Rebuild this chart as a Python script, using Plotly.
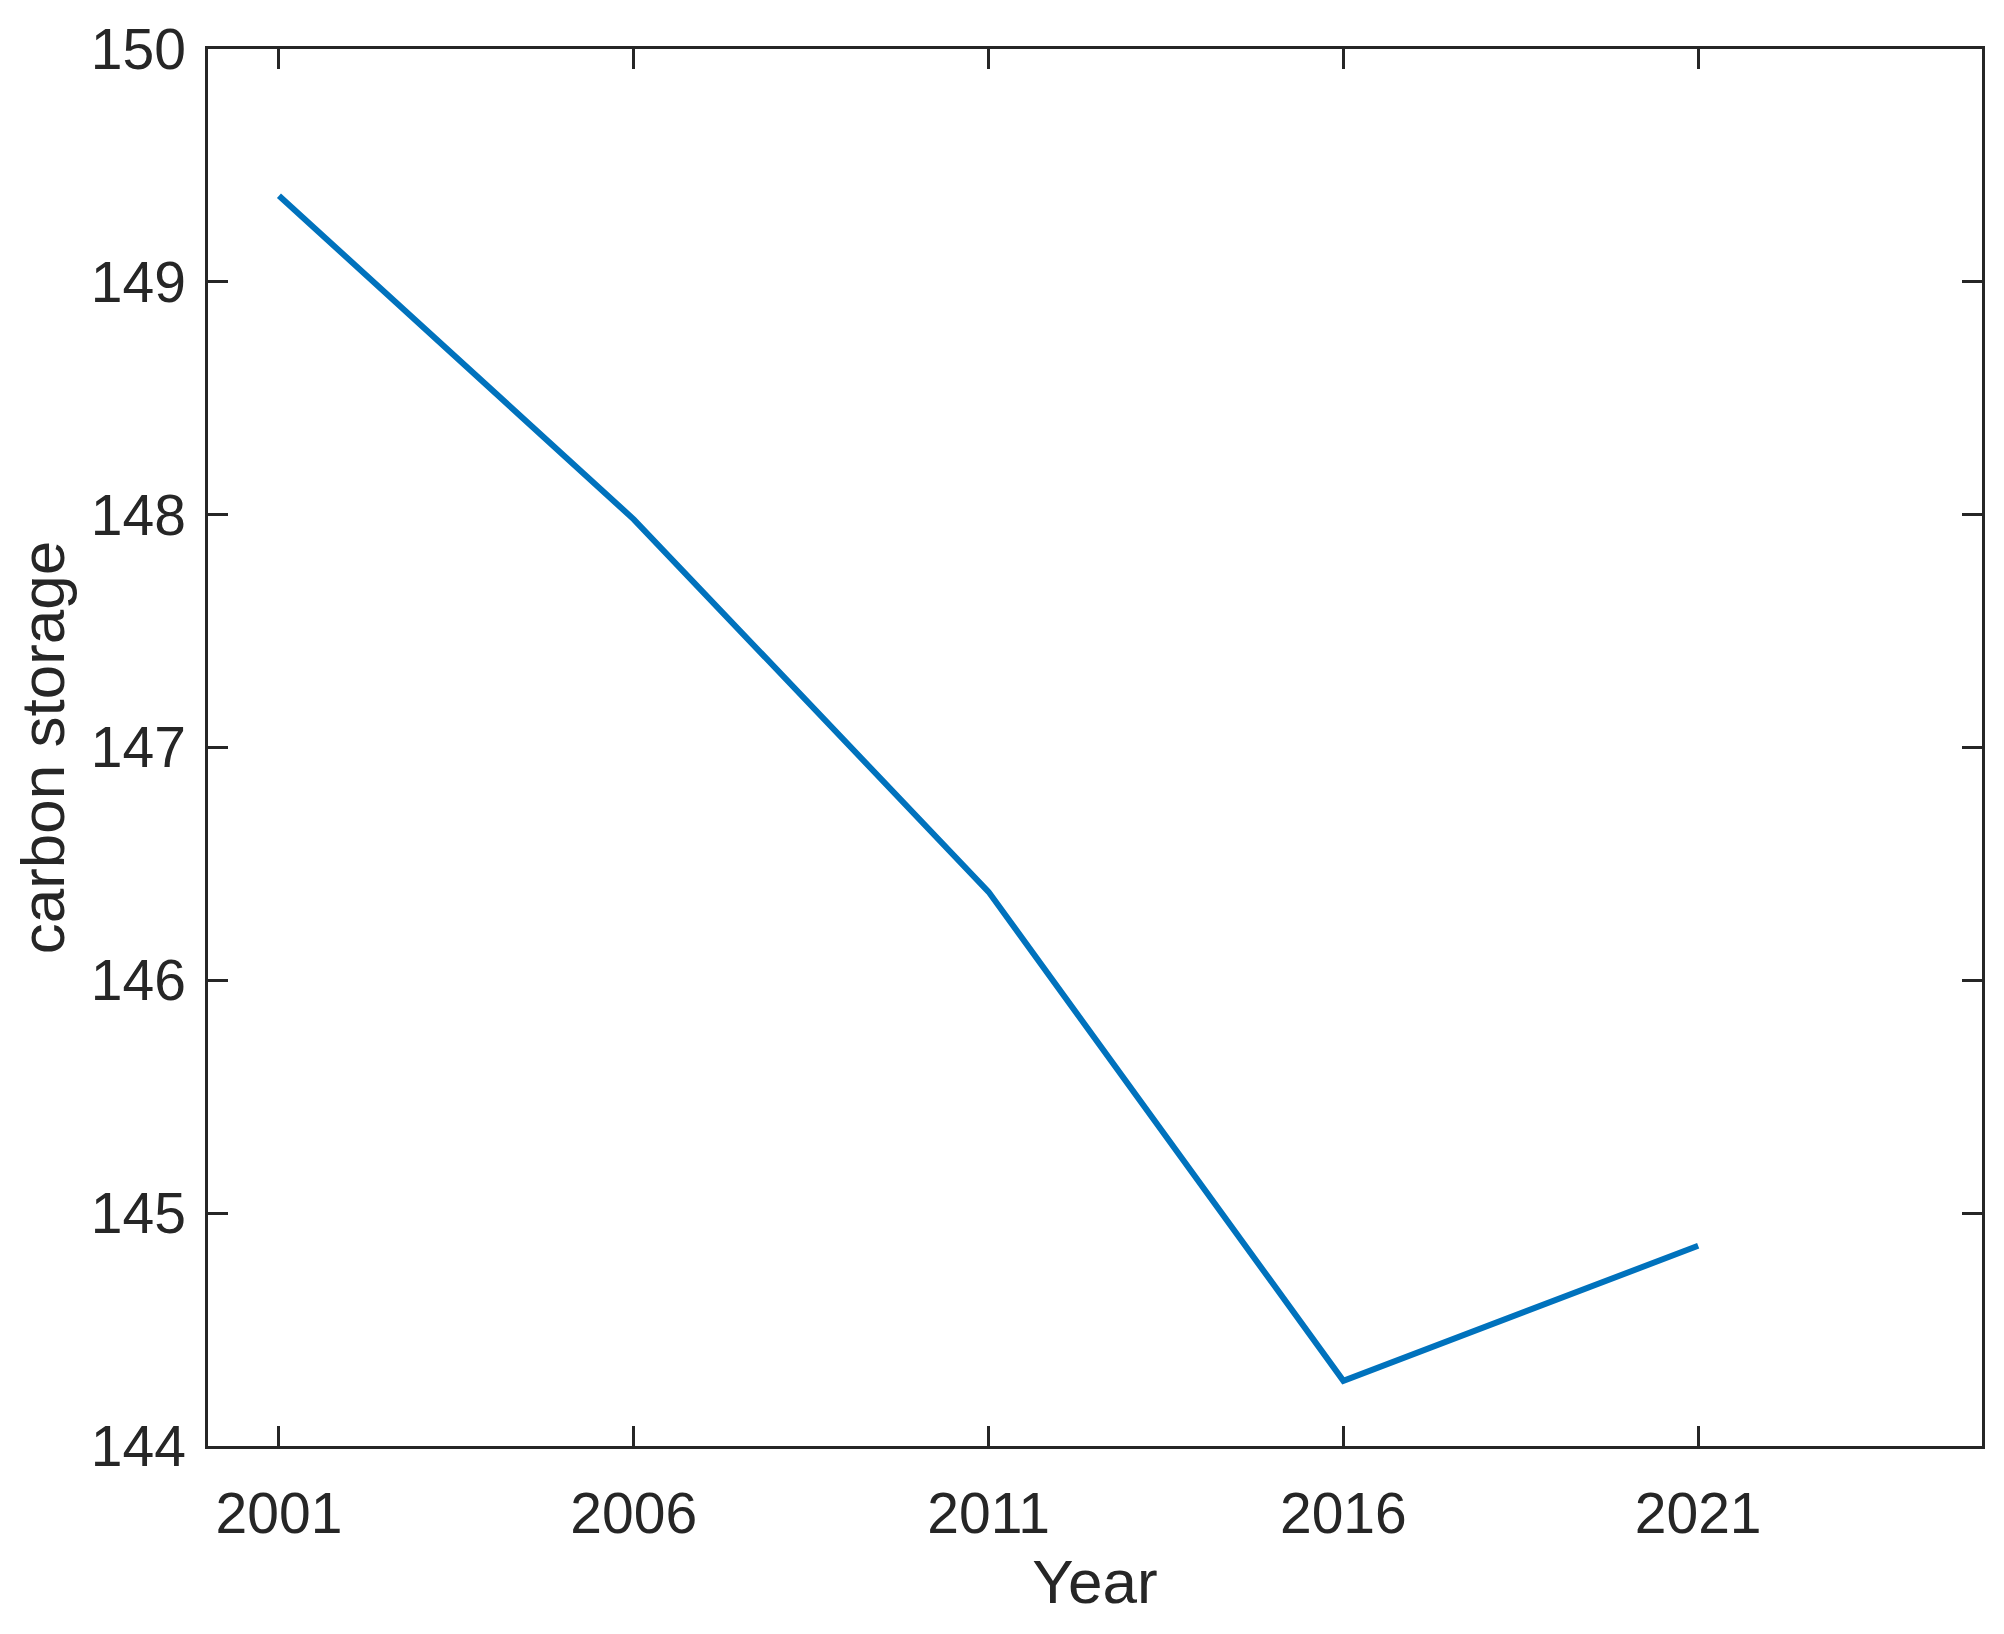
import plotly.graph_objects as go

years = [2001, 2006, 2011, 2016, 2021]
carbon_storage = [149.37, 147.98, 146.38, 144.28, 144.86]
x_ticks = [2001, 2006, 2011, 2016, 2021]
y_ticks = [144, 145, 146, 147, 148, 149, 150]

FONT = "Liberation Sans, Arial, Helvetica, sans-serif"
AX = "#262626"

fig = go.Figure()
fig.add_trace(go.Scatter(
    x=years, y=carbon_storage, mode="lines",
    line=dict(color="#0072BD", width=6),
    showlegend=False,
))

axis_common = dict(
    showline=True, linecolor=AX, linewidth=2.5, mirror="ticks",
    ticks="inside", ticklen=20, tickwidth=2.5, tickcolor=AX,
    showgrid=False, zeroline=False, automargin=False,
    tickfont=dict(family=FONT, size=57, color=AX),
)

fig.update_xaxes(
    range=[2000, 2025], tickvals=x_ticks, ticktext=[str(v) for v in x_ticks],
    title=dict(text="Year", font=dict(family=FONT, size=62, color=AX), standoff=16),
    ticklabelstandoff=16,
    **axis_common,
)
fig.update_yaxes(
    range=[144, 150], tickvals=y_ticks, ticktext=[str(v) for v in y_ticks],
    title=dict(text="carbon storage", font=dict(family=FONT, size=62, color=AX), standoff=8),
    ticklabelstandoff=8,
    **axis_common,
)

fig.update_layout(
    width=2004, height=1634,
    margin=dict(l=200, r=30, t=41, b=196),
    paper_bgcolor="white", plot_bgcolor="white",
)

fig.write_html("out.html")
